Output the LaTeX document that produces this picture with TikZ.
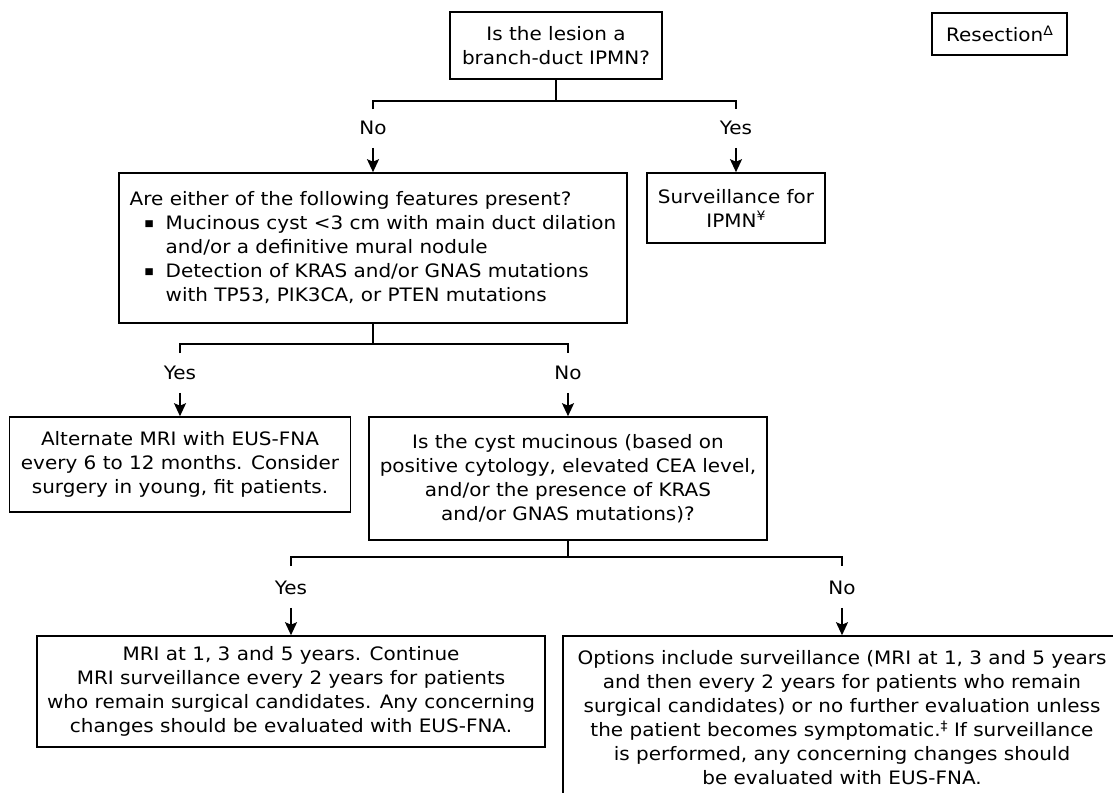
\documentclass[tikz,border=0pt]{standalone}
\usepackage{fontspec}
\setmainfont{DejaVu Sans}[FakeStretch=1.08]
\usetikzlibrary{arrows.meta}
\newcommand{\sqbul}{\makebox[21pt][l]{\raisebox{3pt}{\fontsize{9}{9}\selectfont ■}}}
\newcommand{\supmark}[1]{\raisebox{6.5pt}{\fontsize{13}{13}\selectfont #1}}

\begin{document}
\begin{tikzpicture}[x=1pt, y=-1pt, line width=1.6pt,
  font=\fontsize{18.5}{24}\selectfont,
  box/.style={draw, rectangle, align=center, inner sep=0pt},
  lbl/.style={inner sep=0pt, text height=13.5pt, text depth=0pt},
  arr/.style={-{Stealth[length=13pt, width=12pt, inset=2.5pt]}}]
\useasboundingbox (0,0) rectangle (1113,792);

\node [box, minimum width=212pt, minimum height=67pt] (q1) at (556,45.5) {Is the lesion a\\branch-duct IPMN?};
\node [box, minimum width=135pt, minimum height=42pt] (resect) at (999.5,34) {Resection\supmark{Δ}};

\node [lbl] (no1) at (373,128) {No};
\node [lbl] (yes1) at (736,128) {Yes};
\node [box, align=left, minimum width=508pt, minimum height=150pt] (q2) at (373,248)
  {Are either of the following features present?\\
   \hspace*{15pt}\sqbul Mucinous cyst <3 cm with main duct dilation\\
   \hspace*{15pt}\phantom{\sqbul}and/or a definitive mural nodule\\
   \hspace*{15pt}\sqbul Detection of KRAS and/or GNAS mutations\\
   \hspace*{15pt}\phantom{\sqbul}with TP53, PIK3CA, or PTEN mutations};
\node [box, minimum width=178pt, minimum height=70pt] (surv) at (736,208) {Surveillance for\\IPMN\supmark{¥}};

\node [lbl] (yes2) at (180,373) {Yes};
\node [lbl] (no2) at (568,373) {No};
\node [box, minimum width=341pt, minimum height=95pt] (alt) at (180,464.5)
  {Alternate MRI with EUS-FNA\\every 6 to 12 months. Consider\\surgery in young, fit patients.};
\node [box, minimum width=398pt, minimum height=123pt] (q3) at (568,478.5)
  {Is the cyst mucinous (based on\\positive cytology, elevated CEA level,\\and/or the presence of KRAS\\and/or GNAS mutations)?};

\node [lbl] (yes3) at (291,588) {Yes};
\node [lbl] (no3) at (842,588) {No};
\node [box, minimum width=508pt, minimum height=111pt] (mri) at (291,691.5)
  {MRI at 1, 3 and 5 years. Continue\\MRI surveillance every 2 years for patients\\who remain surgical candidates. Any concerning\\changes should be evaluated with EUS-FNA.};
\node [box, minimum width=558pt, minimum height=164pt] (opts) at (842,718)
  {Options include surveillance (MRI at 1, 3 and 5 years\\and then every 2 years for patients who remain\\surgical candidates) or no further evaluation unless\\the patient becomes symptomatic.\supmark{‡} If surveillance\\is performed, any concerning changes should\\be evaluated with EUS-FNA.};

% branches
\draw (q1.south) -- ++(0,21) coordinate (j1);
\draw ([yshift=11.25pt]no1.north) |- (j1) -| ([yshift=11.25pt]yes1.north);
\draw [arr] ([yshift=-12.25pt]no1.south) -- (q2.north);
\draw [arr] ([yshift=-12.25pt]yes1.south) -- (surv.north);

\draw (q2.south) -- ++(0,20) coordinate (j2);
\draw ([yshift=12.25pt]yes2.north) |- (j2) -| ([yshift=12.25pt]no2.north);
\draw [arr] ([yshift=-12.25pt]yes2.south) -- (alt.north);
\draw [arr] ([yshift=-12.25pt]no2.south) -- (q3.north);

\draw (q3.south) -- ++(0,16) coordinate (j3);
\draw ([yshift=14.25pt]yes3.north) |- (j3) -| ([yshift=14.25pt]no3.north);
\draw [arr] ([yshift=-12.25pt]yes3.south) -- (mri.north);
\draw [arr] ([yshift=-12.25pt]no3.south) -- (opts.north);
\end{tikzpicture}
\end{document}
